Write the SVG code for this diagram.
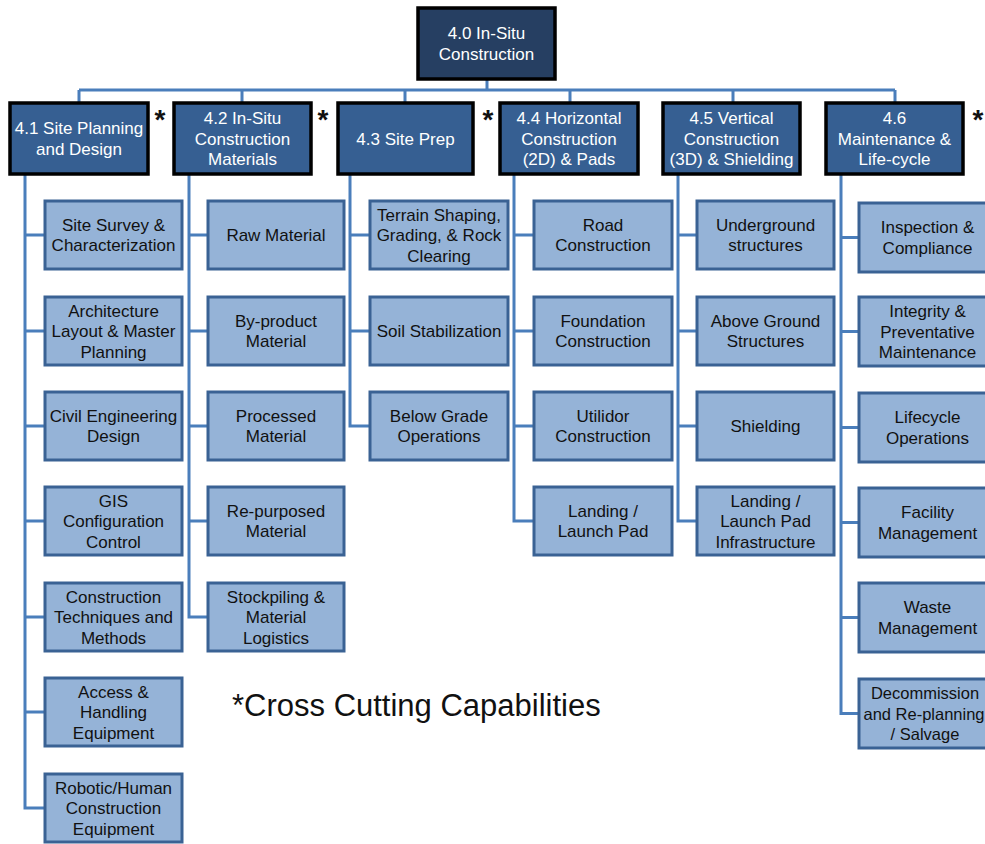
<svg xmlns="http://www.w3.org/2000/svg" width="985" height="844" viewBox="0 0 985 844">
<style>
text{font-family:"Liberation Sans",Arial,sans-serif;font-size:17px;text-anchor:middle}
.top{fill:#263F62;stroke:#000;stroke-width:3.5}
.l1{fill:#365F92;stroke:#000;stroke-width:3.5}
.ch{fill:#95B3D7;stroke:#3A6294;stroke-width:3}
.wt{fill:#fff}
.bt{fill:#111}
.ast{font-size:28px;font-weight:bold;fill:#111}
#connectors path{fill:none;stroke:#4A7EBB;stroke-width:3}
</style>
<rect width="985" height="844" fill="#fff"/>
<g id="connectors">
<path d="M487,79V90M79,90H895M79,90V103M242,90V103M405,90V103M570,90V103M733,90V103M895,90V103"/>
<path d="M25,174V808H45M25,235H45M25,331H45M25,426H45M25,521H45M25,617H45M25,712H45"/>
<path d="M189,174V617H208M189,235H208M189,331H208M189,426H208M189,521H208"/>
<path d="M350,174V426H370M350,235H370M350,331H370"/>
<path d="M514,174V521H534M514,235H534M514,331H534M514,426H534"/>
<path d="M678,174V521H697M678,235H697M678,331H697M678,426H697"/>
<path d="M841,174V713.5H859M841,237.5H859M841,331.5H859M841,427.5H859M841,522.5H859M841,617.5H859"/>
</g>
<g id="n40"><rect class="top" x="418" y="8" width="137" height="71"/><text class="wt" x="486.5" y="39.25">4.0 In-Situ<tspan x="486.5" dy="20.5">Construction</tspan></text></g>
<g id="n41"><rect class="l1" x="10" y="103" width="138" height="71"/><text class="wt" x="79" y="134.25">4.1 Site Planning<tspan x="79" dy="20.5">and Design</tspan></text><text class="ast" x="160" y="129">*</text></g>
<g id="n42"><rect class="l1" x="174" y="103" width="137" height="71"/><text class="wt" x="242.5" y="124">4.2 In-Situ<tspan x="242.5" dy="20.5">Construction</tspan><tspan x="242.5" dy="20.5">Materials</tspan></text><text class="ast" x="323" y="129">*</text></g>
<g id="n43"><rect class="l1" x="338" y="103" width="135" height="71"/><text class="wt" x="405.5" y="144.5">4.3 Site Prep</text><text class="ast" x="488" y="129">*</text></g>
<g id="n44"><rect class="l1" x="500" y="103" width="138" height="71"/><text class="wt" x="569" y="124">4.4 Horizontal<tspan x="569" dy="20.5">Construction</tspan><tspan x="569" dy="20.5">(2D) &amp; Pads</tspan></text></g>
<g id="n45"><rect class="l1" x="663" y="103" width="137" height="71"/><text class="wt" x="731.5" y="124">4.5 Vertical<tspan x="731.5" dy="20.5">Construction</tspan><tspan x="731.5" dy="20.5">(3D) &amp; Shielding</tspan></text></g>
<g id="n46"><rect class="l1" x="826" y="103" width="137" height="71"/><text class="wt" x="894.5" y="124">4.6<tspan x="894.5" dy="20.5">Maintenance &amp;</tspan><tspan x="894.5" dy="20.5">Life-cycle</tspan></text><text class="ast" x="978" y="129">*</text></g>

<g id="c411"><rect class="ch" x="45" y="201" width="137" height="68"/><text class="bt" x="113.5" y="230.75">Site Survey &amp;<tspan x="113.5" dy="20.5">Characterization</tspan></text></g>
<g id="c412"><rect class="ch" x="45" y="297" width="137" height="68"/><text class="bt" x="113.5" y="316.5">Architecture<tspan x="113.5" dy="20.5">Layout &amp; Master</tspan><tspan x="113.5" dy="20.5">Planning</tspan></text></g>
<g id="c413"><rect class="ch" x="45" y="392" width="137" height="68"/><text class="bt" x="113.5" y="421.75">Civil Engineering<tspan x="113.5" dy="20.5">Design</tspan></text></g>
<g id="c414"><rect class="ch" x="45" y="487" width="137" height="68"/><text class="bt" x="113.5" y="506.5">GIS<tspan x="113.5" dy="20.5">Configuration</tspan><tspan x="113.5" dy="20.5">Control</tspan></text></g>
<g id="c415"><rect class="ch" x="45" y="583" width="137" height="68"/><text class="bt" x="113.5" y="602.5">Construction<tspan x="113.5" dy="20.5">Techniques and</tspan><tspan x="113.5" dy="20.5">Methods</tspan></text></g>
<g id="c416"><rect class="ch" x="45" y="678" width="137" height="68"/><text class="bt" x="113.5" y="697.5">Access &amp;<tspan x="113.5" dy="20.5">Handling</tspan><tspan x="113.5" dy="20.5">Equipment</tspan></text></g>
<g id="c417"><rect class="ch" x="45" y="774" width="137" height="68"/><text class="bt" x="113.5" y="793.5">Robotic/Human<tspan x="113.5" dy="20.5">Construction</tspan><tspan x="113.5" dy="20.5">Equipment</tspan></text></g>

<g id="c421"><rect class="ch" x="208" y="201" width="136" height="68"/><text class="bt" x="276" y="241">Raw Material</text></g>
<g id="c422"><rect class="ch" x="208" y="297" width="136" height="68"/><text class="bt" x="276" y="326.75">By-product<tspan x="276" dy="20.5">Material</tspan></text></g>
<g id="c423"><rect class="ch" x="208" y="392" width="136" height="68"/><text class="bt" x="276" y="421.75">Processed<tspan x="276" dy="20.5">Material</tspan></text></g>
<g id="c424"><rect class="ch" x="208" y="487" width="136" height="68"/><text class="bt" x="276" y="516.75">Re-purposed<tspan x="276" dy="20.5">Material</tspan></text></g>
<g id="c425"><rect class="ch" x="208" y="583" width="136" height="68"/><text class="bt" x="276" y="602.5">Stockpiling &amp;<tspan x="276" dy="20.5">Material</tspan><tspan x="276" dy="20.5">Logistics</tspan></text></g>

<g id="c431"><rect class="ch" x="370" y="201" width="138" height="68"/><text class="bt" x="439" y="220.5">Terrain Shaping,<tspan x="439" dy="20.5">Grading, &amp; Rock</tspan><tspan x="439" dy="20.5">Clearing</tspan></text></g>
<g id="c432"><rect class="ch" x="370" y="297" width="138" height="68"/><text class="bt" x="439" y="337">Soil Stabilization</text></g>
<g id="c433"><rect class="ch" x="370" y="392" width="138" height="68"/><text class="bt" x="439" y="421.75">Below Grade<tspan x="439" dy="20.5">Operations</tspan></text></g>

<g id="c441"><rect class="ch" x="534" y="201" width="138" height="68"/><text class="bt" x="603" y="230.75">Road<tspan x="603" dy="20.5">Construction</tspan></text></g>
<g id="c442"><rect class="ch" x="534" y="297" width="138" height="68"/><text class="bt" x="603" y="326.75">Foundation<tspan x="603" dy="20.5">Construction</tspan></text></g>
<g id="c443"><rect class="ch" x="534" y="392" width="138" height="68"/><text class="bt" x="603" y="421.75">Utilidor<tspan x="603" dy="20.5">Construction</tspan></text></g>
<g id="c444"><rect class="ch" x="534" y="487" width="138" height="68"/><text class="bt" x="603" y="516.75">Landing /<tspan x="603" dy="20.5">Launch Pad</tspan></text></g>

<g id="c451"><rect class="ch" x="697" y="201" width="137" height="68"/><text class="bt" x="765.5" y="230.75">Underground<tspan x="765.5" dy="20.5">structures</tspan></text></g>
<g id="c452"><rect class="ch" x="697" y="297" width="137" height="68"/><text class="bt" x="765.5" y="326.75">Above Ground<tspan x="765.5" dy="20.5">Structures</tspan></text></g>
<g id="c453"><rect class="ch" x="697" y="392" width="137" height="68"/><text class="bt" x="765.5" y="432">Shielding</text></g>
<g id="c454"><rect class="ch" x="697" y="487" width="137" height="68"/><text class="bt" x="765.5" y="506.5">Landing /<tspan x="765.5" dy="20.5">Launch Pad</tspan><tspan x="765.5" dy="20.5">Infrastructure</tspan></text></g>

<g id="c461"><rect class="ch" x="859" y="203" width="137" height="69"/><text class="bt" x="927.5" y="233.25">Inspection &amp;<tspan x="927.5" dy="20.5">Compliance</tspan></text></g>
<g id="c462"><rect class="ch" x="859" y="297" width="137" height="69"/><text class="bt" x="927.5" y="317">Integrity &amp;<tspan x="927.5" dy="20.5">Preventative</tspan><tspan x="927.5" dy="20.5">Maintenance</tspan></text></g>
<g id="c463"><rect class="ch" x="859" y="393" width="137" height="69"/><text class="bt" x="927.5" y="423.25">Lifecycle<tspan x="927.5" dy="20.5">Operations</tspan></text></g>
<g id="c464"><rect class="ch" x="859" y="488" width="137" height="69"/><text class="bt" x="927.5" y="518.25">Facility<tspan x="927.5" dy="20.5">Management</tspan></text></g>
<g id="c465"><rect class="ch" x="859" y="583" width="137" height="69"/><text class="bt" x="927.5" y="613.25">Waste<tspan x="927.5" dy="20.5">Management</tspan></text></g>
<g id="c466"><rect class="ch" x="859" y="679" width="137" height="69"/><text class="bt" x="925" y="699" style="font-size:16.5px">Decommission<tspan x="924" dy="20.5">and Re-planning</tspan><tspan x="925" dy="20.5">/ Salvage</tspan></text></g>

<text x="232" y="716" style="font-size:31px;text-anchor:start;fill:#111">*Cross Cutting Capabilities</text>
</svg>
